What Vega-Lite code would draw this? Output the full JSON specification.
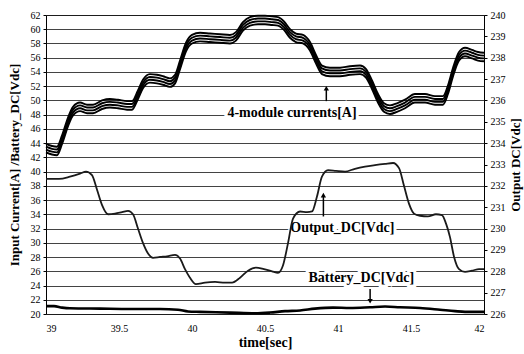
{
  "$schema": "https://vega.github.io/schema/vega-lite/v6.json",
  "autosize": "none",
  "width": 438,
  "height": 299,
  "padding": {"left": 46, "top": 15, "right": 40, "bottom": 40},
  "background": "white",
  "config": {
    "font": "Times New Roman, Liberation Serif, serif",
    "text": {"font": "Times New Roman, Liberation Serif, serif"},
    "view": {"stroke": "#000", "strokeWidth": 1},
    "axis": {"labelFont": "Times New Roman, Liberation Serif, serif", "titleFont": "Times New Roman, Liberation Serif, serif", "labelColor": "#000", "titleColor": "#000", "titleFontWeight": "bold", "titleFontSize": 13, "labelFontSize": 10}
  },
  "datasets": {
    "mod": [
      {"t": 39.0, "a": 43.9, "b": 43.5, "c": 43.1, "d": 42.7},
      {"t": 39.041, "a": 43.6, "b": 43.2, "c": 42.8, "d": 42.4},
      {"t": 39.075, "a": 43.5, "b": 43.1, "c": 42.7, "d": 42.3},
      {"t": 39.11, "a": 45.1, "b": 44.7, "c": 44.3, "d": 43.9},
      {"t": 39.151, "a": 47.6, "b": 47.2, "c": 46.8, "d": 46.4},
      {"t": 39.185, "a": 49.1, "b": 48.7, "c": 48.3, "d": 47.9},
      {"t": 39.233, "a": 49.7, "b": 49.3, "c": 48.9, "d": 48.5},
      {"t": 39.281, "a": 49.4, "b": 49.0, "c": 48.6, "d": 48.2},
      {"t": 39.322, "a": 49.4, "b": 49.0, "c": 48.6, "d": 48.2},
      {"t": 39.384, "a": 50.0, "b": 49.6, "c": 49.2, "d": 48.8},
      {"t": 39.438, "a": 50.2, "b": 49.8, "c": 49.4, "d": 49.0},
      {"t": 39.493, "a": 50.1, "b": 49.7, "c": 49.3, "d": 48.9},
      {"t": 39.555, "a": 49.9, "b": 49.5, "c": 49.1, "d": 48.7},
      {"t": 39.589, "a": 49.9, "b": 49.5, "c": 49.1, "d": 48.7},
      {"t": 39.63, "a": 51.4, "b": 51.0, "c": 50.6, "d": 50.2},
      {"t": 39.664, "a": 52.9, "b": 52.5, "c": 52.1, "d": 51.7},
      {"t": 39.712, "a": 53.7, "b": 53.3, "c": 52.9, "d": 52.5},
      {"t": 39.76, "a": 53.6, "b": 53.2, "c": 52.8, "d": 52.4},
      {"t": 39.801, "a": 53.4, "b": 53.0, "c": 52.6, "d": 52.2},
      {"t": 39.849, "a": 53.1, "b": 52.7, "c": 52.3, "d": 51.9},
      {"t": 39.884, "a": 53.6, "b": 53.2, "c": 52.8, "d": 52.4},
      {"t": 39.918, "a": 55.6, "b": 55.2, "c": 54.8, "d": 54.4},
      {"t": 39.959, "a": 58.1, "b": 57.7, "c": 57.3, "d": 56.9},
      {"t": 40.0, "a": 59.2, "b": 58.8, "c": 58.4, "d": 58.0},
      {"t": 40.055, "a": 59.5, "b": 59.1, "c": 58.7, "d": 58.3},
      {"t": 40.123, "a": 59.4, "b": 59.0, "c": 58.6, "d": 58.2},
      {"t": 40.192, "a": 59.3, "b": 58.9, "c": 58.5, "d": 58.1},
      {"t": 40.26, "a": 59.2, "b": 58.8, "c": 58.4, "d": 58.0},
      {"t": 40.301, "a": 59.6, "b": 59.2, "c": 58.8, "d": 58.4},
      {"t": 40.349, "a": 61.0, "b": 60.6, "c": 60.2, "d": 59.8},
      {"t": 40.397, "a": 61.7, "b": 61.3, "c": 60.9, "d": 60.5},
      {"t": 40.452, "a": 61.9, "b": 61.5, "c": 61.1, "d": 60.7},
      {"t": 40.5, "a": 61.9, "b": 61.5, "c": 61.1, "d": 60.7},
      {"t": 40.548, "a": 61.8, "b": 61.4, "c": 61.0, "d": 60.6},
      {"t": 40.589, "a": 61.7, "b": 61.3, "c": 60.9, "d": 60.5},
      {"t": 40.63, "a": 61.1, "b": 60.7, "c": 60.3, "d": 59.9},
      {"t": 40.671, "a": 60.0, "b": 59.6, "c": 59.2, "d": 58.8},
      {"t": 40.712, "a": 59.4, "b": 59.0, "c": 58.6, "d": 58.2},
      {"t": 40.76, "a": 59.2, "b": 58.8, "c": 58.4, "d": 58.0},
      {"t": 40.808, "a": 58.2, "b": 57.8, "c": 57.4, "d": 57.0},
      {"t": 40.849, "a": 56.4, "b": 56.0, "c": 55.6, "d": 55.2},
      {"t": 40.89, "a": 54.9, "b": 54.5, "c": 54.1, "d": 53.7},
      {"t": 40.945, "a": 54.6, "b": 54.2, "c": 53.8, "d": 53.4},
      {"t": 41.014, "a": 54.6, "b": 54.2, "c": 53.8, "d": 53.4},
      {"t": 41.082, "a": 54.8, "b": 54.4, "c": 54.0, "d": 53.6},
      {"t": 41.151, "a": 54.9, "b": 54.5, "c": 54.1, "d": 53.7},
      {"t": 41.192, "a": 54.4, "b": 54.0, "c": 53.6, "d": 53.2},
      {"t": 41.233, "a": 52.8, "b": 52.4, "c": 52.0, "d": 51.6},
      {"t": 41.274, "a": 50.9, "b": 50.5, "c": 50.1, "d": 49.7},
      {"t": 41.315, "a": 49.6, "b": 49.2, "c": 48.8, "d": 48.4},
      {"t": 41.356, "a": 49.3, "b": 48.9, "c": 48.5, "d": 48.1},
      {"t": 41.404, "a": 49.6, "b": 49.2, "c": 48.8, "d": 48.4},
      {"t": 41.459, "a": 50.1, "b": 49.7, "c": 49.3, "d": 48.9},
      {"t": 41.527, "a": 50.9, "b": 50.5, "c": 50.1, "d": 49.7},
      {"t": 41.596, "a": 50.9, "b": 50.5, "c": 50.1, "d": 49.7},
      {"t": 41.664, "a": 50.6, "b": 50.2, "c": 49.8, "d": 49.4},
      {"t": 41.719, "a": 50.6, "b": 50.2, "c": 49.8, "d": 49.4},
      {"t": 41.753, "a": 52.1, "b": 51.7, "c": 51.3, "d": 50.9},
      {"t": 41.788, "a": 54.6, "b": 54.2, "c": 53.8, "d": 53.4},
      {"t": 41.829, "a": 56.8, "b": 56.4, "c": 56.0, "d": 55.6},
      {"t": 41.87, "a": 57.4, "b": 57.0, "c": 56.6, "d": 56.2},
      {"t": 41.918, "a": 57.1, "b": 56.7, "c": 56.3, "d": 55.9},
      {"t": 41.959, "a": 56.8, "b": 56.4, "c": 56.0, "d": 55.6},
      {"t": 42.0, "a": 56.7, "b": 56.3, "c": 55.9, "d": 55.5}
    ],
    "out": [
      {"t": 39.0, "V": 232.33}, {"t": 39.089, "V": 232.33}, {"t": 39.164, "V": 232.43}, {"t": 39.233, "V": 232.57},
      {"t": 39.274, "V": 232.67}, {"t": 39.315, "V": 232.5}, {"t": 39.349, "V": 231.83}, {"t": 39.384, "V": 231.1},
      {"t": 39.425, "V": 230.67}, {"t": 39.473, "V": 230.7}, {"t": 39.521, "V": 230.77}, {"t": 39.562, "V": 230.83},
      {"t": 39.596, "V": 230.67}, {"t": 39.63, "V": 230.0}, {"t": 39.664, "V": 229.33}, {"t": 39.699, "V": 228.83},
      {"t": 39.733, "V": 228.63}, {"t": 39.781, "V": 228.67}, {"t": 39.829, "V": 228.7}, {"t": 39.884, "V": 228.77},
      {"t": 39.918, "V": 228.6}, {"t": 39.952, "V": 228.1}, {"t": 39.986, "V": 227.7}, {"t": 40.027, "V": 227.4},
      {"t": 40.089, "V": 227.47}, {"t": 40.158, "V": 227.5}, {"t": 40.226, "V": 227.47}, {"t": 40.274, "V": 227.47},
      {"t": 40.329, "V": 227.7}, {"t": 40.384, "V": 228.03}, {"t": 40.438, "V": 228.17}, {"t": 40.493, "V": 228.1},
      {"t": 40.548, "V": 228.0}, {"t": 40.589, "V": 227.93}, {"t": 40.623, "V": 228.27}, {"t": 40.658, "V": 229.33},
      {"t": 40.692, "V": 230.47}, {"t": 40.74, "V": 230.8}, {"t": 40.788, "V": 230.77}, {"t": 40.822, "V": 230.8},
      {"t": 40.856, "V": 231.5}, {"t": 40.89, "V": 232.43}, {"t": 40.932, "V": 232.73}, {"t": 40.986, "V": 232.7},
      {"t": 41.048, "V": 232.67}, {"t": 41.116, "V": 232.8}, {"t": 41.185, "V": 232.9}, {"t": 41.253, "V": 232.97},
      {"t": 41.322, "V": 233.03}, {"t": 41.377, "V": 233.07}, {"t": 41.418, "V": 232.83}, {"t": 41.452, "V": 232.0},
      {"t": 41.486, "V": 231.17}, {"t": 41.521, "V": 230.7}, {"t": 41.562, "V": 230.6}, {"t": 41.616, "V": 230.57},
      {"t": 41.671, "V": 230.67}, {"t": 41.712, "V": 230.63}, {"t": 41.74, "V": 230.23}, {"t": 41.767, "V": 229.6},
      {"t": 41.795, "V": 228.67}, {"t": 41.829, "V": 228.1}, {"t": 41.87, "V": 227.97}, {"t": 41.918, "V": 228.03},
      {"t": 41.966, "V": 228.1}, {"t": 42.0, "V": 228.1}
    ],
    "bat": [
      {"t": 39.0, "v": 21.1}, {"t": 39.055, "v": 21.1}, {"t": 39.11, "v": 20.9}, {"t": 39.164, "v": 20.8},
      {"t": 39.37, "v": 20.75}, {"t": 39.575, "v": 20.7}, {"t": 39.781, "v": 20.7}, {"t": 39.904, "v": 20.6},
      {"t": 39.973, "v": 20.35}, {"t": 40.055, "v": 20.3}, {"t": 40.26, "v": 20.2}, {"t": 40.432, "v": 20.1},
      {"t": 40.534, "v": 20.2}, {"t": 40.637, "v": 20.4}, {"t": 40.74, "v": 20.5}, {"t": 40.842, "v": 20.75},
      {"t": 40.966, "v": 20.9}, {"t": 41.082, "v": 20.85}, {"t": 41.219, "v": 20.95}, {"t": 41.322, "v": 21.05},
      {"t": 41.425, "v": 20.95}, {"t": 41.562, "v": 20.85}, {"t": 41.699, "v": 20.6}, {"t": 41.801, "v": 20.4},
      {"t": 41.87, "v": 20.3}, {"t": 42.0, "v": 20.3}
    ],
    "txt": [
      {"t": 40.685, "v": 48.2, "label": "4-module currents[A]"},
      {"t": 41.03, "v": 32.1, "label": "Output_DC[Vdc]"},
      {"t": 41.16, "v": 25.05, "label": "Battery_DC[Vdc]"}
    ],
    "arr": [
      {"t": 40.92, "v": 49.9, "v2": 51.6},
      {"t": 40.9, "v": 33.7, "v2": 36.6},
      {"t": 41.22, "v": 23.5, "v2": 21.9}
    ],
    "heads": [
      {"t": 40.92, "v": 51.7, "shape": "triangle-up"},
      {"t": 40.9, "v": 36.7, "shape": "triangle-up"},
      {"t": 41.22, "v": 21.8, "shape": "triangle-down"}
    ]
  },
  "encoding": {
    "x": {
      "field": "t", "type": "quantitative",
      "scale": {"domain": [39, 42], "nice": false, "zero": false},
      "axis": {"values": [39, 39.5, 40, 40.5, 41, 41.5, 42], "format": ".1~f", "title": "time[sec]", "grid": false, "ticks": false, "domain": false, "labelPadding": 9, "labelFont": "Times New Roman, Liberation Serif, serif", "labelFontSize": 10, "titlePadding": 2, "titleFontSize": 14}
    }
  },
  "layer": [
    {
      "encoding": {
        "y": {
          "field": "v", "type": "quantitative",
          "scale": {"domain": [20, 62], "nice": false, "zero": false},
          "axis": {"values": [20,22,24,26,28,30,32,34,36,38,40,42,44,46,48,50,52,54,56,58,60,62], "title": "Input  Current[A] /Battery_DC[Vdc]", "grid": true, "gridColor": "#222", "gridWidth": 1, "gridOpacity": 0.85, "domain": false, "tickSize": 3, "tickColor": "#000", "labelPadding": 3, "labelFont": "Times New Roman, Liberation Serif, serif", "labelFontSize": 10, "titlePadding": 9, "titleFontSize": 13}
        }
      },
      "layer": [
        {
          "data": {"name": "mod"},
          "transform": [{"fold": ["a", "b", "c", "d"], "as": ["m", "v"]}],
          "mark": {"type": "line", "color": "#000", "strokeWidth": 1.9, "interpolate": "monotone"},
          "encoding": {"detail": {"field": "m", "type": "nominal"}}
        },
        {
          "data": {"name": "bat"},
          "mark": {"type": "line", "color": "#000", "strokeWidth": 2.6, "interpolate": "monotone"},
          "encoding": {}
        },
        {
          "data": {"name": "arr"},
          "mark": {"type": "rule", "color": "#000", "strokeWidth": 1.5},
          "encoding": {"y2": {"field": "v2"}}
        },
        {
          "data": {"name": "heads"},
          "mark": {"type": "point", "filled": true, "color": "#000", "size": 28, "opacity": 1},
          "encoding": {"shape": {"field": "shape", "type": "nominal", "scale": null}}
        },
        {
          "data": {"name": "txt"},
          "mark": {"type": "text", "font": "Times New Roman, Liberation Serif, serif", "fontWeight": "bold", "fontSize": 14, "stroke": "white", "strokeWidth": 6, "fill": "white", "baseline": "middle"},
          "encoding": {"text": {"field": "label"}}
        },
        {
          "data": {"name": "txt"},
          "mark": {"type": "text", "font": "Times New Roman, Liberation Serif, serif", "fontWeight": "bold", "fontSize": 14, "color": "#000", "baseline": "middle"},
          "encoding": {"text": {"field": "label"}}
        }
      ]
    },
    {
      "data": {"name": "out"},
      "mark": {"type": "line", "color": "#1a1a1a", "strokeWidth": 1.8, "interpolate": "monotone"},
      "encoding": {
        "y": {
          "field": "V", "type": "quantitative",
          "scale": {"domain": [226, 240], "nice": false, "zero": false},
          "axis": {"orient": "right", "values": [226,227,228,229,230,231,232,233,234,235,236,237,238,239,240], "title": "Output  DC[Vdc]", "titleAngle": 270, "titleBaseline": "top", "grid": false, "domain": false, "tickSize": 3, "tickColor": "#000", "labelPadding": 3, "labelFont": "Times New Roman, Liberation Serif, serif", "labelFontSize": 10, "titlePadding": 4, "titleFontSize": 13}
        }
      }
    }
  ],
  "resolve": {"scale": {"y": "independent"}, "axis": {"y": "independent"}}
}
